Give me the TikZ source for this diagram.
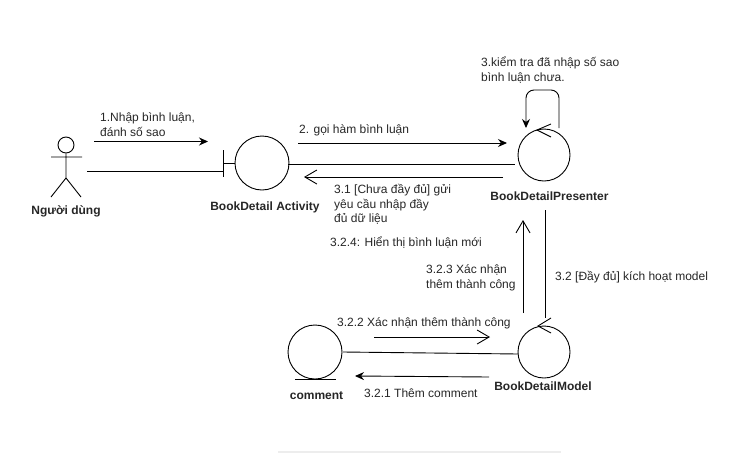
\documentclass[tikz,border=0pt]{standalone}
\usepackage{fontspec}
\setmainfont{Liberation Sans}
\usetikzlibrary{arrows.meta}
\tikzset{
  x=1pt,y=-1pt,
  lbl/.style={inner sep=0pt,align=left,anchor=north west,font=\fontsize{12}{14.5}\selectfont,text=black!85},
  name lbl/.style={inner sep=0pt,anchor=center,font=\fontsize{12}{14}\selectfont\bfseries,text=black!85},
  obj/.style={draw,circle,line width=.9pt,inner sep=0pt,minimum size=#1},
  ln/.style={line width=.9pt},
  solidarrow/.style={ln,-{Stealth[length=9pt,width=8pt]}},
  openarrow/.style={ln,-{Straight Barb[length=12pt,width=14pt]}},
  chevron/.style={ln,line join=miter}
}
\begin{document}
\begin{tikzpicture}
\useasboundingbox (0,0) rectangle (756,453);
\fill[black!7] (278,451) rectangle (561,453);
% actor
\node[obj=16pt] (head) at (66,145) {};
\coordinate (hip) at (66,178);
\coordinate (armL) at (51,157);
\coordinate (armR) at (82,157);
\coordinate (legL) at (51,197);
\coordinate (legR) at (81,197);
\draw[ln] (head.south) -- (hip) (armL) -- (armR) (legL) -- (hip) -- (legR);
\node[name lbl] (user) at (66,211) {Người dùng};
% objects
\node[obj=54pt] (act) at (262,163) {};
\node[obj=52pt] (pres) at (544,155) {};
\node[obj=52pt] (model) at (544,352) {};
\node[obj=54pt] (comm) at (315,352) {};
\coordinate (barT) at (223,150);
\coordinate (barB) at (223,177);
\coordinate (barM) at (223,163);
\draw[ln] (barT) -- (barB) (barM) -- (act.west);
\coordinate (cbL) at (295,379);
\coordinate (cbR) at (336,379);
\draw[ln] (cbL) -- (cbR);
\node[name lbl] (actname) at (265,207) {BookDetail Activity};
\node[name lbl] (presname) at (549.5,196) {BookDetailPresenter};
\node[name lbl] (modelname) at (543,386) {BookDetailModel};
\node[name lbl] (commname) at (316.5,396) {comment};
% chevrons on circles
\coordinate (pa) at (551,124); \coordinate (pb) at (537,130); \coordinate (pc) at (551,137);
\draw[chevron] (pa) -- (pb) -- (pc);
\coordinate (ma) at (551,318); \coordinate (mb) at (538,326); \coordinate (mc) at (551,333);
\draw[chevron] (ma) -- (mb) -- (mc);
% connectors
\coordinate (u1) at (87,171);
\draw[ln] (u1) -- (barM |- u1);
\coordinate (a1) at (94,141.5); \coordinate (a2) at (208,141.5);
\draw[solidarrow] (a1) -- (a2);
\coordinate (l1) at (288,164); \coordinate (l2) at (515,164);
\draw[ln] (l1) -- (l2);
\coordinate (b1) at (298,143); \coordinate (b2) at (507,143);
\draw[solidarrow] (b1) -- (b2);
\coordinate (c1) at (503,177); \coordinate (c2) at (304,177);
\draw[openarrow] (c1) -- (c2);
\coordinate (s1) at (559,128); \coordinate (s2) at (526,128);
\draw[ln,rounded corners=8pt,-{Stealth[length=9pt,width=8pt]}] (s1) -- (559,90) -- (526,90) -- (s2);
\coordinate (v1) at (523,313); \coordinate (v2) at (523,220);
\draw[openarrow] (v1) -- (v2);
\coordinate (w1) at (545,210); \coordinate (w2) at (545,318);
\draw[ln] (w1) -- (w2);
\coordinate (h1) at (374,337); \coordinate (h2) at (490,337);
\draw[openarrow] (h1) -- (h2);
\coordinate (k1) at (343,352); \coordinate (k2) at (518,354);
\draw[ln] (k1) -- (k2);
\coordinate (j1) at (489,377); \coordinate (j2) at (355,376);
\draw[solidarrow] (j1) -- (j2);
% labels
\node[lbl] (t1) at (100,112.5) {1.Nhập bình luận,\\đánh số sao};
\node[lbl] (t2) at (299,124.5) {2. gọi hàm bình luận};
\node[lbl] (t3) at (481,57) {3.kiểm tra đã nhập số sao\\bình luận chưa.};
\node[lbl] (t4) at (334,184.5) {3.1 [Chưa đầy đủ] gửi\\yêu cầu nhập đầy\\đủ dữ liệu};
\node[lbl] (t5) at (330,236.5) {3.2.4: Hiển thị bình luận mới};
\node[lbl] (t6) at (426,264.5) {3.2.3 Xác nhận\\thêm thành công};
\node[lbl] (t7) at (555,271.5) {3.2 [Đầy đủ] kích hoạt model};
\node[lbl] (t8) at (337,317.5) {3.2.2 Xác nhận thêm thành công};
\node[lbl] (t9) at (364,389) {3.2.1 Thêm comment};
\end{tikzpicture}
\end{document}
